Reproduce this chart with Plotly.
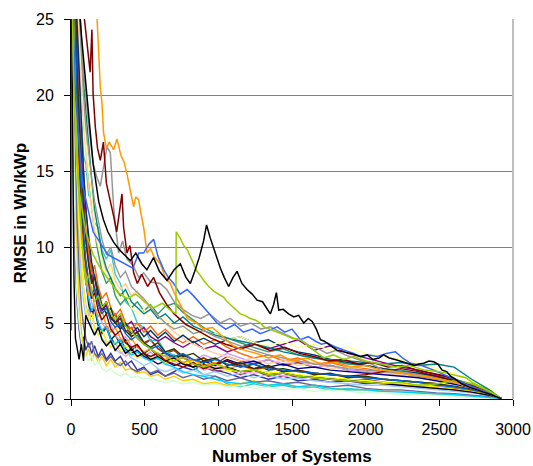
import plotly.graph_objects as go

# ---------------- data ----------------
# common x grid (number of systems) for the bundle series
grid_x = [0, 10, 20, 30, 40, 55, 70, 85, 100, 120, 140, 160, 185, 210, 240, 270, 300, 335, 370, 410,
          450, 495, 540, 590, 640, 700, 760, 830, 900, 980, 1060, 1150, 1240, 1340, 1440, 1540, 1650,
          1760, 1880, 2000, 2120, 2240, 2360, 2480, 2600, 2720, 2840, 2920]

s01 = [30, 22, 13, 9, 6.5, 4.6, 3.5, 4.1, 3.2, 3.7, 3.0, 3.5, 2.8, 3.3, 2.6, 3.0, 2.5, 2.8, 2.2, 2.5, 1.9, 2.1, 1.6, 1.8, 1.5, 1.8, 2.1, 1.9, 2.3, 1.9, 1.7, 1.4, 1.6, 1.3, 1.5, 1.2, 1.3, 1.1, 1.2, 1.0, 1.1, 0.9, 0.8, 0.7, 0.6, 0.45, 0.25, 0.03]
s02 = [36, 34, 31, 28, 25, 21, 18, 15, 12.5, 10, 8.4, 7.2, 6.6, 5.8, 6.2, 5.3, 5.6, 4.8, 4.4, 4.7, 4.0, 3.6, 3.9, 3.3, 3.0, 2.6, 2.9, 2.3, 2.1, 1.8, 2.0, 1.6, 1.9, 1.5, 1.7, 1.4, 1.5, 1.3, 1.2, 1.3, 1.1, 1.0, 0.9, 0.8, 0.7, 0.5, 0.3, 0.03]
s03 = [34, 31, 27, 23, 19, 15, 12, 9.5, 8.0, 6.2, 5.4, 5.9, 4.8, 4.3, 4.7, 3.9, 4.2, 3.6, 3.9, 3.2, 3.5, 3.0, 3.3, 2.8, 3.1, 2.7, 2.9, 2.5, 2.7, 2.3, 2.5, 2.1, 2.3, 1.9, 2.0, 1.8, 1.7, 1.6, 1.5, 1.4, 1.3, 1.2, 1.1, 1.0, 0.8, 0.6, 0.35, 0.03]
s04 = [35, 33, 29, 26, 22, 18, 15, 12.5, 10.5, 9.0, 7.6, 8.2, 6.8, 5.9, 6.4, 5.2, 5.6, 4.6, 4.9, 4.1, 4.4, 3.7, 3.9, 3.3, 3.0, 3.2, 2.7, 2.4, 2.7, 2.3, 2.8, 2.5, 2.3, 2.6, 2.2, 2.4, 2.1, 2.2, 1.9, 1.8, 1.7, 1.6, 1.5, 1.3, 1.1, 0.8, 0.45, 0.03]
s05 = [30, 27, 26, 23, 22, 19, 18.5, 16, 15.5, 13.4, 13.2, 11.6, 11.3, 9.8, 9.2, 9.8, 8.2, 7.6, 6.4, 6.0, 5.0, 4.7, 3.8, 3.9, 3.1, 2.9, 2.3, 2.1, 1.6, 1.5, 1.0, 0.8, 1.0, 0.8, 0.9, 0.7, 0.8, 0.6, 0.7, 0.6, 0.5, 0.5, 0.4, 0.35, 0.3, 0.2, 0.12, 0.03]
s06 = [30, 26, 20, 15, 10, 6.5, 4.5, 3.4, 2.8, 3.3, 2.5, 3.0, 2.4, 2.8, 2.2, 2.6, 2.1, 2.4, 1.9, 2.0, 1.7, 1.8, 1.5, 1.6, 1.3, 1.5, 1.2, 1.3, 1.0, 1.1, 0.9, 1.0, 1.2, 0.9, 1.0, 0.8, 0.9, 0.7, 0.6, 0.6, 0.5, 0.5, 0.4, 0.35, 0.3, 0.2, 0.1, 0.03]
s07 = [4.5, 30, 28, 25, 22, 19, 16, 13, 11, 9.4, 8.0, 7.2, 6.4, 5.8, 6.2, 5.3, 5.0, 5.5, 4.8, 5.1, 4.4, 4.7, 4.1, 3.8, 4.1, 3.7, 3.4, 3.8, 3.3, 3.5, 3.1, 3.4, 3.7, 3.3, 3.6, 3.9, 3.2, 3.5, 3.0, 2.7, 2.4, 2.1, 1.9, 1.6, 1.3, 0.9, 0.5, 0.03]
s08 = [33, 31, 28, 25, 22, 18.5, 15, 12.5, 11, 9.5, 8.2, 8.8, 7.4, 6.6, 7.0, 6.0, 5.5, 5.9, 5.0, 4.6, 5.0, 4.4, 4.8, 4.2, 4.6, 4.0, 3.7, 4.1, 3.6, 3.9, 3.4, 3.0, 2.7, 2.9, 2.5, 2.7, 2.3, 2.4, 2.1, 2.0, 1.8, 1.7, 1.6, 1.4, 1.1, 0.8, 0.45, 0.03]
s09 = [36, 35, 33, 31, 29, 26, 23, 20, 17, 14.5, 12.5, 11, 9.6, 8.4, 7.6, 8.0, 6.8, 6.2, 6.6, 6.0, 6.4, 5.8, 6.2, 5.6, 6.1, 6.3, 5.7, 5.2, 4.7, 4.3, 4.0, 3.7, 3.4, 3.1, 3.3, 2.9, 2.7, 2.5, 2.3, 2.2, 2.0, 1.9, 1.7, 1.5, 1.3, 1.0, 0.6, 0.03]
s10 = [32, 29, 26, 22, 18, 15, 12, 10, 8.6, 7.2, 6.4, 5.6, 6.0, 5.0, 4.6, 4.9, 4.2, 3.8, 4.1, 3.5, 3.2, 2.8, 3.1, 2.6, 2.9, 2.5, 2.8, 2.5, 2.9, 2.6, 3.0, 2.7, 2.4, 2.6, 2.3, 2.5, 2.1, 2.2, 1.9, 1.8, 1.7, 1.6, 1.5, 1.3, 1.1, 0.8, 0.45, 0.03]
s11 = [34, 32, 30, 28, 26, 23, 20.5, 18, 16, 14, 12.5, 11, 10, 9.2, 8.4, 8.9, 7.8, 7.2, 7.6, 6.8, 7.1, 6.4, 6.0, 5.4, 5.0, 4.4, 4.0, 3.6, 3.3, 3.0, 2.8, 2.5, 2.7, 2.3, 2.6, 2.2, 2.4, 2.0, 2.1, 1.9, 1.7, 1.6, 1.4, 1.2, 1.0, 0.7, 0.4, 0.03]
s12 = [31, 27, 23, 18, 14, 10.5, 8.0, 6.4, 5.4, 5.9, 4.7, 4.3, 4.8, 4.0, 3.6, 3.9, 3.3, 3.0, 3.2, 2.7, 2.5, 2.2, 2.4, 2.0, 1.8, 2.0, 1.7, 1.9, 1.6, 1.8, 1.5, 1.7, 1.4, 1.6, 1.3, 1.4, 1.2, 1.1, 1.0, 0.9, 0.9, 0.8, 0.7, 0.6, 0.5, 0.4, 0.25, 0.03]
s13 = [33, 29, 24, 19, 15, 11.5, 9.0, 7.4, 6.2, 5.4, 5.9, 4.7, 4.2, 4.6, 3.8, 3.4, 3.7, 3.1, 2.8, 3.1, 2.7, 2.9, 2.5, 2.7, 2.3, 2.5, 2.1, 2.3, 1.9, 2.1, 2.0, 1.8, 1.7, 1.8, 1.5, 1.6, 1.4, 1.3, 1.2, 1.1, 1.0, 0.9, 0.8, 0.7, 0.6, 0.45, 0.25, 0.03]
s14 = [32, 30, 27, 23, 19, 15, 12, 9.5, 7.8, 6.6, 5.6, 6.0, 5.0, 4.4, 4.8, 4.0, 3.6, 3.9, 3.3, 3.0, 3.2, 2.8, 2.6, 2.3, 2.5, 2.2, 2.4, 2.1, 2.5, 2.2, 2.6, 2.3, 2.5, 2.1, 2.3, 2.0, 2.1, 1.9, 1.8, 1.7, 1.6, 1.5, 1.4, 1.2, 1.0, 0.75, 0.4, 0.03]
s15 = [35, 33, 31, 28, 25, 21.5, 18, 15, 12.5, 10.5, 9.0, 8.0, 7.0, 6.2, 5.6, 6.0, 5.0, 4.6, 5.0, 4.3, 4.7, 4.1, 4.5, 4.0, 4.4, 3.8, 4.2, 3.7, 4.0, 3.6, 3.9, 4.1, 3.7, 3.9, 3.4, 3.1, 2.9, 2.6, 2.4, 2.2, 2.0, 1.8, 1.7, 1.5, 1.2, 0.9, 0.5, 0.03]
s16 = [30, 26, 21, 16, 12, 8.5, 6.2, 4.8, 4.0, 3.4, 3.8, 3.0, 2.7, 3.0, 2.5, 2.8, 2.4, 2.2, 2.5, 2.0, 1.8, 2.0, 1.7, 1.9, 1.5, 1.7, 1.4, 1.6, 1.3, 1.5, 1.2, 1.4, 1.1, 1.2, 1.0, 1.1, 0.9, 0.8, 0.9, 0.7, 0.6, 0.6, 0.5, 0.4, 0.35, 0.25, 0.15, 0.03]
s17 = [36, 35, 33, 31, 28, 25, 22, 19.5, 17, 15, 13, 11.5, 10.2, 9.0, 8.0, 8.6, 7.2, 6.6, 6.9, 6.0, 5.6, 5.9, 5.2, 5.0, 5.3, 4.7, 4.4, 4.6, 4.1, 4.3, 3.9, 4.1, 3.7, 3.5, 3.8, 3.4, 3.6, 3.2, 3.4, 3.0, 2.8, 2.6, 2.3, 2.0, 1.7, 1.2, 0.7, 0.03]
s18 = [30, 27, 23, 19, 15, 11.5, 9.0, 7.2, 6.0, 5.2, 5.7, 4.6, 4.2, 4.6, 3.8, 3.4, 3.8, 3.2, 3.5, 3.0, 2.7, 3.0, 2.6, 2.8, 2.4, 2.6, 2.3, 2.5, 2.2, 2.0, 1.9, 1.8, 2.0, 1.7, 1.8, 1.6, 1.5, 1.4, 1.3, 1.2, 1.1, 1.0, 0.9, 0.8, 0.65, 0.5, 0.3, 0.03]
s19 = [6.0, 34, 33, 31, 29, 27, 24, 21, 19, 16.5, 14.5, 12.5, 11, 9.6, 8.6, 8.0, 7.3, 6.8, 7.2, 6.4, 6.0, 5.6, 5.9, 5.3, 5.6, 5.0, 5.4, 4.8, 4.5, 4.2, 4.0, 3.8, 3.6, 3.4, 3.1, 2.9, 2.7, 2.6, 2.5, 2.4, 2.3, 2.4, 2.2, 2.3, 2.1, 1.3, 0.6, 0.03]
s20 = [28, 22, 15, 10, 7, 5, 3.8, 3.2, 2.8, 2.5, 2.9, 2.2, 2.5, 2.0, 1.8, 2.0, 1.7, 1.5, 1.7, 1.4, 1.5, 1.3, 1.4, 1.2, 1.1, 1.2, 1.0, 1.1, 0.9, 1.0, 0.8, 0.9, 0.7, 0.8, 0.6, 0.7, 0.5, 0.6, 0.5, 0.4, 0.4, 0.3, 0.3, 0.25, 0.2, 0.15, 0.1, 0.03]
s21 = [31, 29, 26, 22, 18, 14.5, 11.5, 9.2, 7.8, 6.6, 5.8, 6.2, 5.0, 4.5, 4.8, 3.9, 3.6, 3.9, 3.2, 2.9, 3.1, 2.7, 2.5, 2.7, 2.3, 2.1, 1.8, 1.6, 1.5, 1.3, 1.1, 1.0, 1.1, 0.9, 1.0, 0.8, 0.9, 0.7, 0.6, 0.6, 0.5, 0.45, 0.4, 0.35, 0.3, 0.2, 0.12, 0.03]
s22 = [30, 20, 8, 4.0, 3.3, 2.6, 3.6, 2.5, 5.5, 5.0, 4.6, 4.2, 4.7, 3.9, 3.5, 3.8, 3.2, 3.6, 3.0, 3.3, 2.8, 3.0, 2.6, 2.8, 2.5, 2.7, 2.3, 2.1, 2.3, 2.0, 2.1, 1.8, 1.9, 1.6, 1.7, 1.5, 1.4, 1.3, 1.2, 1.1, 1.0, 0.9, 0.8, 0.7, 0.6, 0.45, 0.25, 0.03]
s23 = [32, 30, 26, 22, 18, 14.5, 11.5, 9.5, 8.0, 6.8, 7.4, 6.0, 5.4, 5.8, 4.8, 4.4, 4.7, 4.0, 3.7, 4.0, 3.4, 3.1, 3.3, 2.9, 2.6, 2.8, 2.4, 2.6, 2.2, 2.4, 2.0, 2.2, 1.9, 2.1, 1.8, 1.9, 1.7, 1.6, 1.5, 1.4, 1.3, 1.2, 1.1, 1.0, 0.8, 0.6, 0.35, 0.03]
s24 = [35, 34, 32, 30, 28, 25, 22, 20, 18, 16, 14.5, 13, 11.8, 10.5, 9.5, 10.0, 8.8, 8.0, 8.4, 7.4, 7.0, 6.6, 6.0, 5.5, 5.0, 4.6, 4.8, 4.3, 4.5, 4.1, 3.8, 3.5, 3.2, 2.9, 2.7, 2.5, 2.3, 2.2, 2.0, 1.9, 1.8, 1.7, 1.5, 1.3, 1.1, 0.8, 0.45, 0.03]
s25 = [33, 31, 28, 24, 20, 16, 13, 10.5, 9.0, 7.6, 6.6, 7.0, 5.8, 5.2, 5.6, 4.6, 4.2, 4.5, 3.7, 3.4, 3.6, 3.0, 2.8, 3.0, 2.5, 2.3, 2.1, 2.4, 2.0, 2.3, 2.5, 2.2, 2.0, 2.1, 1.8, 1.9, 1.7, 1.6, 1.5, 1.6, 1.8, 2.0, 1.8, 1.5, 1.2, 0.9, 0.5, 0.03]
s26 = [34, 32, 29, 26, 22, 18.5, 15, 12.5, 10.5, 8.8, 7.6, 8.0, 6.6, 6.0, 6.4, 5.4, 5.0, 5.3, 4.5, 4.1, 4.4, 3.7, 3.4, 3.7, 3.1, 3.3, 2.8, 3.0, 2.5, 2.7, 2.2, 2.4, 2.0, 2.2, 1.8, 1.9, 1.6, 1.7, 1.4, 1.5, 1.3, 1.2, 1.1, 1.0, 0.85, 0.65, 0.35, 0.03]
s27 = [33, 31, 28, 24, 20, 16.5, 13.5, 11, 9.2, 7.8, 6.8, 7.3, 6.2, 5.6, 6.0, 5.1, 4.7, 5.0, 4.3, 3.9, 4.2, 3.6, 3.3, 3.5, 3.0, 2.8, 3.0, 2.6, 2.4, 2.6, 2.3, 2.1, 2.3, 2.0, 1.9, 1.8, 1.7, 1.6, 1.5, 1.4, 1.3, 1.2, 1.1, 0.9, 0.8, 0.6, 0.35, 0.03]
s28 = [31, 28, 24, 20, 16, 13, 10.5, 8.8, 7.6, 8.2, 7.0, 6.4, 6.8, 6.0, 6.4, 5.6, 5.2, 5.6, 4.8, 4.4, 4.0, 3.6, 3.3, 3.0, 2.8, 2.5, 2.7, 2.3, 2.1, 2.3, 2.0, 1.8, 1.9, 1.6, 1.7, 1.5, 1.4, 1.3, 1.2, 1.1, 1.0, 1.1, 0.9, 1.0, 1.2, 1.0, 0.5, 0.03]

bundle = [
    ("#333399", s01), ("#993366", s02), ("#003300", s03), ("#993300", s04),
    ("#33CCCC", s05), ("#FFCC00", s06), ("#800080", s07), ("#FF6600", s08),
    ("#339966", s09), ("#CC99FF", s10), ("#FFCC99", s11), ("#99CCFF", s12),
    ("#FF99CC", s13), ("#000080", s14), ("#003366", s15), ("#666699", s16),
    ("#FFFF99", s17), ("#FFFF00", s18), ("#008080", s19), ("#CCFFCC", s20),
    ("#00CCFF", s21), ("#000000", s22), ("#FF9900", s23), ("#969696", s24),
    ("#800000", s25), ("#333300", s26), ("#0066CC", s27), ("#99CC00", s28),
]

# prominent series, each with its own x positions
gray_x = [0, 40, 80, 97, 120, 150, 175, 199, 220, 244, 267, 290, 323, 350, 380, 420, 460, 493, 540, 606, 650, 700, 760, 820, 880, 940, 1014, 1080, 1150, 1220, 1290, 1353, 1400, 1460, 1510, 1557, 1620, 1680, 1738, 1800, 1860, 1920, 1964, 2040, 2122, 2200, 2305, 2400, 2500, 2600, 2700, 2800, 2920]
gray_y = [40, 28, 22, 20.1, 18, 15.5, 14.6, 14.0, 15.2, 16.6, 16.2, 12.5, 9.6, 10.4, 9.2, 8.8, 8.0, 8.3, 7.7, 7.6, 7.2, 6.4, 5.9, 5.5, 5.3, 5.6, 5.0, 5.3, 4.8, 5.0, 4.6, 4.75, 4.5, 4.2, 4.0, 3.9, 3.5, 3.3, 3.0, 3.2, 2.9, 2.7, 2.55, 2.3, 1.9, 1.8, 1.7, 1.5, 1.3, 1.1, 0.8, 0.45, 0.02]

red_x = [0, 40, 80, 110, 130, 142, 150, 165, 180, 199, 220, 240, 267, 290, 310, 330, 346, 357, 370, 380, 400, 425, 450, 480, 520, 561, 600, 650, 700, 780, 860, 950, 1050, 1150, 1250, 1350, 1450, 1550, 1650, 1750, 1850, 1950, 2050, 2150, 2250, 2350, 2450, 2550, 2650, 2750, 2850, 2920]
red_y = [38, 30, 26, 23, 21.5, 24.3, 20.1, 17.9, 16.5, 15.7, 16.9, 14.2, 13.1, 12.0, 11.0, 12.4, 13.5, 11.3, 10.2, 9.6, 10.1, 8.3, 7.6, 8.2, 7.4, 8.0, 7.0, 6.2, 5.6, 4.9, 4.5, 4.0, 3.6, 3.3, 3.6, 3.2, 3.4, 3.0, 2.8, 2.5, 2.6, 2.3, 2.4, 2.1, 2.2, 1.9, 1.7, 1.5, 1.1, 0.7, 0.35, 0.02]

orange_x = [0, 60, 120, 160, 176, 185, 199, 210, 221, 240, 260, 289, 312, 340, 360, 380, 400, 425, 440, 459, 475, 493, 516, 540, 561, 585, 606, 640, 674, 700, 740, 790, 850, 900, 960, 1020, 1100, 1180, 1260, 1340, 1420, 1500, 1600, 1700, 1800, 1900, 2000, 2100, 2200, 2300, 2400, 2500, 2600, 2700, 2800, 2920]
orange_y = [35, 30, 27, 26, 25.2, 23, 20.5, 19.5, 17.5, 16.5, 16.9, 16.4, 17.1, 16.0, 15.6, 14.8, 13.8, 12.65, 13.3, 13.1, 12.2, 11.3, 9.6, 9.9, 9.4, 9.1, 8.9, 8.0, 7.6, 7.0, 6.2, 5.3, 5.0, 4.6, 4.7, 4.2, 3.5, 3.2, 3.0, 2.7, 2.9, 2.5, 2.7, 2.3, 2.4, 2.1, 2.2, 1.9, 1.8, 1.6, 1.5, 1.3, 1.1, 0.8, 0.5, 0.02]

blue_x = [0, 30, 80, 150, 250, 350, 420, 460, 493, 530, 561, 590, 630, 660, 697, 740, 788, 830, 878, 930, 991, 1050, 1110, 1170, 1230, 1285, 1340, 1399, 1450, 1500, 1557, 1610, 1660, 1700, 1738, 1800, 1860, 1920, 1964, 2020, 2080, 2140, 2202, 2250, 2305, 2380, 2462, 2510, 2553, 2620, 2700, 2780, 2850, 2920]
blue_y = [30, 20, 14, 11, 9.5, 9.0, 8.6, 9.6, 9.6, 10.2, 10.5, 9.4, 8.5, 8.0, 7.6, 6.9, 7.2, 6.8, 6.3, 5.7, 5.0, 4.6, 4.9, 4.4, 4.6, 4.3, 4.5, 4.75, 4.4, 4.6, 3.9, 4.1, 3.8, 3.6, 3.7, 3.4, 3.2, 3.0, 2.8, 2.9, 2.8, 3.0, 3.1, 2.7, 2.35, 2.2, 1.9, 1.7, 1.5, 1.2, 0.9, 0.6, 0.3, 0.02]

lime_x = [0, 20, 50, 100, 150, 200, 260, 320, 380, 440, 500, 560, 620, 680, 712, 714, 740, 765, 790, 810, 830, 855, 880, 900, 935, 968, 1000, 1036, 1060, 1082, 1115, 1150, 1180, 1217, 1250, 1285, 1308, 1350, 1400, 1450, 1500, 1557, 1610, 1660, 1715, 1780, 1850, 1920, 2000, 2100, 2200, 2300, 2400, 2500, 2600, 2680, 2730, 2800, 2860, 2920]
lime_y = [30, 20, 14, 11, 9.5, 8.6, 7.8, 7.0, 6.6, 6.9, 6.4, 6.0, 6.3, 5.8, 5.6, 11.0, 10.6, 10.1, 9.8, 9.4, 9.0, 8.4, 8.1, 7.8, 7.4, 7.1, 6.9, 6.7, 6.4, 6.2, 5.9, 5.6, 5.5, 5.3, 5.2, 5.0, 4.75, 4.6, 4.4, 4.2, 4.0, 3.9, 3.5, 3.1, 2.7, 2.9, 2.6, 2.8, 2.5, 2.3, 2.1, 2.2, 1.9, 1.8, 1.6, 1.4, 1.05, 0.7, 0.4, 0.02]

black_x = [0, 20, 40, 70, 100, 126, 150, 188, 220, 250, 290, 330, 370, 403, 440, 480, 515, 560, 600, 652, 700, 742, 780, 810, 840, 870, 900, 920, 945, 968, 990, 1014, 1040, 1070, 1100, 1127, 1160, 1195, 1230, 1263, 1300, 1330, 1353, 1375, 1394, 1410, 1440, 1477, 1512, 1545, 1580, 1610, 1637, 1665, 1693, 1720, 1750, 1780, 1806, 1850, 1900, 1964, 2010, 2050, 2090, 2122, 2160, 2200, 2230, 2258, 2300, 2330, 2360, 2394, 2430, 2462, 2490, 2519, 2550, 2576, 2610, 2650, 2700, 2750, 2800, 2850, 2900, 2920]
black_y = [40, 33, 28, 24, 21, 18.2, 15.5, 13.0, 11.8, 11.0, 10.3, 9.8, 9.4, 9.1, 9.6, 8.9, 8.5, 9.3, 8.4, 7.8, 8.5, 8.9, 8.0, 7.6, 8.4, 9.3, 10.4, 11.45, 10.6, 9.9, 9.2, 8.6, 8.0, 7.4, 8.0, 8.4, 7.6, 7.2, 6.9, 6.5, 6.4, 5.9, 5.6, 6.2, 7.0, 5.85, 5.9, 5.6, 5.4, 5.5, 5.0, 5.3, 5.1, 4.6, 3.9, 3.8, 3.6, 3.4, 3.2, 3.1, 3.0, 2.8, 2.9, 2.6, 2.7, 2.9, 2.7, 2.6, 2.5, 2.45, 2.3, 2.2, 2.3, 2.35, 2.5, 2.45, 2.3, 1.9, 1.8, 1.5, 1.3, 1.0, 0.8, 0.6, 0.45, 0.3, 0.1, 0.02]

prominent = [
    ("#969696", gray_x, gray_y), ("#800000", red_x, red_y), ("#FF9900", orange_x, orange_y),
    ("#3366FF", blue_x, blue_y), ("#99CC00", lime_x, lime_y), ("#000000", black_x, black_y),
]

y_ticks = [0, 5, 10, 15, 20, 25]
x_ticks = [0, 500, 1000, 1500, 2000, 2500, 3000]

# ---------------- figure ----------------
fig = go.Figure()
for color, ys in bundle:
    fig.add_trace(go.Scatter(x=grid_x, y=ys, mode="lines",
                             line=dict(color=color, width=1.4), showlegend=False))
for color, xs, ys in prominent:
    fig.add_trace(go.Scatter(x=xs, y=ys, mode="lines",
                             line=dict(color=color, width=1.5), showlegend=False))

font_family = "Arial, Liberation Sans, sans-serif"
fig.update_layout(
    width=533, height=466,
    margin=dict(l=71, r=20, t=19, b=67, autoexpand=False),
    paper_bgcolor="white", plot_bgcolor="white",
    font=dict(family=font_family, size=16, color="black"),
    showlegend=False,
)
fig.update_xaxes(
    range=[0, 3000], tickvals=x_ticks, ticktext=[str(v) for v in x_ticks],
    showgrid=False, zeroline=False, showline=True, linecolor="black", linewidth=1,
    ticks="outside", ticklen=6, tickcolor="black", ticklabelstandoff=10,
    tickfont=dict(size=16), automargin=False,
)
fig.update_yaxes(
    range=[0, 25], tickvals=y_ticks, ticktext=[str(v) for v in y_ticks],
    showgrid=True, gridcolor="#808080", gridwidth=1, zeroline=False,
    showline=True, linecolor="black", linewidth=1,
    ticks="outside", ticklen=6, tickcolor="black", ticklabelstandoff=7,
    tickfont=dict(size=16), automargin=False,
)
# light grey right border of the plot area
fig.add_shape(type="line", xref="paper", yref="paper", x0=1, x1=1, y0=0, y1=1,
              line=dict(color="#BFBFBF", width=2))
fig.add_annotation(text="<b>Number of Systems</b>", xref="paper", yref="paper",
                   x=0.5, y=-0.1526, xanchor="center", yanchor="middle",
                   showarrow=False, font=dict(size=17, family=font_family))
fig.add_annotation(text="<b>RMSE in Wh/kWp</b>", xref="paper", yref="paper",
                   x=-0.1147, y=0.489, xanchor="center", yanchor="middle", textangle=-90,
                   showarrow=False, font=dict(size=17, family=font_family))

# remove the default page margin so the 533x466 figure fills the window exactly
fig.write_html("out.html", config={"displayModeBar": False},
               post_script="document.body.style.margin='0';document.body.style.overflow='hidden';")
